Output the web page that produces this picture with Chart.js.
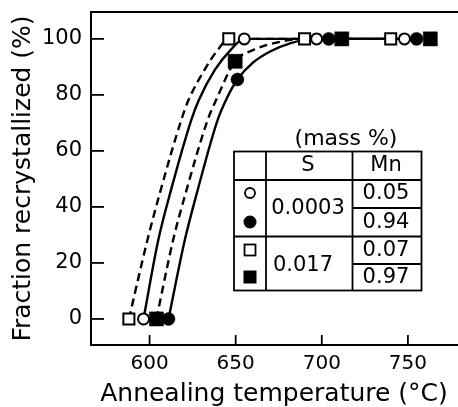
<!DOCTYPE html>
<html><head><meta charset="utf-8">
<script src="https://cdn.jsdelivr.net/npm/chart.js@4.4.0/dist/chart.umd.min.js"></script>
<style>html,body{margin:0;padding:0;background:#fff;}canvas{display:block;}</style>
</head><body>
<canvas id="c" width="458" height="407"></canvas>
<script>
// ---- axis ticks ----
const xTicks = [600, 650, 700, 750];
const yTicks = [0, 20, 40, 60, 80, 100];

// ---- measured points (temperature °C, fraction recrystallized %) ----
const openSqT = [588, 646, 690, 740];          // S 0.017, Mn 0.07
const openSqF = [0, 100, 100, 100];
const openCircT = [596.5, 655, 697, 748];      // S 0.0003, Mn 0.05
const openCircF = [0, 100, 100, 100];
const solidSqT = [604, 649.7, 711.6, 763];     // S 0.017, Mn 0.97
const solidSqF = [0, 92, 100, 100];
const solidCircT = [611, 651, 704, 755];       // S 0.0003, Mn 0.94
const solidCircF = [0, 85.5, 100, 100];

// ---- fitted curves ----
const curveOpenSqT = [588, 598.7, 606, 618.4, 622.5, 632, 639.5, 646, 690, 740];
const curveOpenSqF = [0, 28, 45, 71, 78, 89, 96, 100, 100, 100];
const curveOpenCircT = [596.5, 605, 612, 624.2, 628.5, 638, 647, 655, 697, 748];
const curveOpenCircF = [0, 28, 45, 71, 78, 89, 96, 100, 100, 100];
const curveSolidSqT = [604, 613.6, 621, 633.7, 638.5, 649.7, 660, 673, 690, 711.6, 763];
const curveSolidSqF = [0, 28, 45, 71, 78, 92, 96, 98.6, 100, 100, 100];
const curveSolidCircT = [611, 620.4, 627.5, 639.5, 645, 651, 660, 670, 682, 695, 704, 755];
const curveSolidCircF = [0, 28, 45, 71, 79, 85.5, 91.5, 95.5, 98.5, 100, 100, 100];

// ---- legend table text ----
const legendTitle = '(mass %)';
const legendHeaders = ['S', 'Mn'];
const legendS = ['0.0003', '0.017'];
const legendMn = ['0.05', '0.94', '0.07', '0.97'];

const FONT = 'DejaVu Sans';
const pts = (T, F) => T.map((t, i) => ({x: t, y: F[i]}));

function markerDs(label, T, F, style, filled, r) {
  return {label, data: pts(T, F), showLine: false, pointStyle: style,
    pointRadius: r, pointHoverRadius: r,
    pointBackgroundColor: filled ? '#000' : '#fff',
    pointBorderColor: '#000', pointBorderWidth: filled ? 0.5 : 2, order: 0};
}
function curveDs(label, T, F, dashed) {
  return {label, data: pts(T, F), showLine: true, borderColor: '#000',
    borderWidth: 2.4, borderDash: dashed ? [8, 5] : [], pointRadius: 0,
    pointHoverRadius: 0, cubicInterpolationMode: 'monotone', fill: false, order: 1};
}

const frameAndTicks = {
  id: 'frameAndTicks',
  afterDraw(chart) {
    const {ctx, chartArea: a, scales: {x, y}} = chart;
    ctx.save();
    ctx.strokeStyle = '#000';
    ctx.lineWidth = 1.8;
    x.ticks.forEach(t => {
      const px = x.getPixelForValue(t.value);
      ctx.beginPath(); ctx.moveTo(px, a.bottom); ctx.lineTo(px, a.bottom - 10); ctx.stroke();
    });
    y.ticks.forEach(t => {
      const py = y.getPixelForValue(t.value);
      ctx.beginPath(); ctx.moveTo(a.left, py); ctx.lineTo(a.left + 13, py); ctx.stroke();
    });
    ctx.lineWidth = 2;
    ctx.beginPath(); ctx.moveTo(a.left - 1, a.top); ctx.lineTo(chart.width, a.top); ctx.stroke();
    ctx.beginPath(); ctx.moveTo(a.right, a.bottom); ctx.lineTo(chart.width, a.bottom); ctx.stroke();
    ctx.restore();
  }
};

const legendTable = {
  id: 'legendTable',
  afterDraw(chart) {
    const ctx = chart.ctx;
    const c = [234, 266, 352.5, 421.5];
    const r = [151.5, 180, 208, 236.5, 264, 290.5];
    ctx.save();
    ctx.strokeStyle = '#000';
    ctx.lineWidth = 1.8;
    ctx.fillStyle = '#fff';
    ctx.fillRect(c[0], r[0], c[3] - c[0], r[5] - r[0]);
    ctx.strokeRect(c[0], r[0], c[3] - c[0], r[5] - r[0]);
    const line = (x1, y1, x2, y2) => { ctx.beginPath(); ctx.moveTo(x1, y1); ctx.lineTo(x2, y2); ctx.stroke(); };
    line(c[1], r[0], c[1], r[5]);
    line(c[2], r[0], c[2], r[5]);
    line(c[0], r[1], c[3], r[1]);
    line(c[0], r[3], c[3], r[3]);
    line(c[2], r[2], c[3], r[2]);
    line(c[2], r[4], c[3], r[4]);

    ctx.fillStyle = '#000';
    ctx.textAlign = 'center';
    ctx.textBaseline = 'middle';
    ctx.font = '22px ' + FONT;
    ctx.fillText(legendTitle, 346, 139);
    ctx.font = '21px ' + FONT;
    ctx.fillText(legendHeaders[0], 308, 166);
    ctx.fillText(legendHeaders[1], 386, 166);
    ctx.fillText(legendS[0], 308, 209);
    ctx.fillText(legendS[1], 303, 266);
    const mnY = [194, 223, 251, 278];
    legendMn.forEach((t, i) => ctx.fillText(t, 386, mnY[i]));

    // symbols
    const cx = 250;
    ctx.lineWidth = 1.8;
    ctx.beginPath(); ctx.arc(cx, 193, 5, 0, Math.PI * 2); ctx.fillStyle = '#fff'; ctx.fill(); ctx.stroke();
    ctx.beginPath(); ctx.arc(cx, 222, 6.5, 0, Math.PI * 2); ctx.fillStyle = '#000'; ctx.fill();
    ctx.strokeRect(cx - 5.5, 244.5, 11, 11);
    ctx.fillRect(cx - 6.5, 270.5, 13, 13);
    ctx.restore();
  }
};

function build() {
  new Chart(document.getElementById('c'), {
    type: 'scatter',
    data: {
      datasets: [
        markerDs('S 0.017 / Mn 0.07', openSqT, openSqF, 'rect', false, 7.8),
        markerDs('S 0.0003 / Mn 0.05', openCircT, openCircF, 'circle', false, 5.5),
        markerDs('S 0.017 / Mn 0.97', solidSqT, solidSqF, 'rect', true, 10),
        markerDs('S 0.0003 / Mn 0.94', solidCircT, solidCircF, 'circle', true, 6.5),
        curveDs('fit 0.017/0.07', curveOpenSqT, curveOpenSqF, true),
        curveDs('fit 0.0003/0.05', curveOpenCircT, curveOpenCircF, false),
        curveDs('fit 0.017/0.97', curveSolidSqT, curveSolidSqF, true),
        curveDs('fit 0.0003/0.94', curveSolidCircT, curveSolidCircF, false)
      ]
    },
    options: {
      responsive: false, animation: false, devicePixelRatio: 1,
      layout: {autoPadding: false, padding: {top: 12, right: 1, left: 0, bottom: 0}},
      plugins: {legend: {display: false}, tooltip: {enabled: false}},
      scales: {
        x: {
          type: 'linear', min: 566, max: 778.5,
          grid: {display: false, drawTicks: false},
          border: {display: true, color: '#000', width: 2},
          afterBuildTicks: s => { s.ticks = xTicks.map(v => ({value: v})); },
          afterFit: s => { s.height = 62; s.paddingLeft = 0; s.paddingRight = 0; },
          ticks: {color: '#000', font: {family: FONT, size: 20}, padding: 7, maxRotation: 0, autoSkip: false},
          title: {display: true, text: 'Annealing temperature (°C)', color: '#000',
            font: {family: FONT, size: 25, lineHeight: 1}, padding: {top: 0, bottom: 0}}
        },
        y: {
          type: 'linear', min: -9.3, max: 109.6,
          grid: {display: false, drawTicks: false},
          border: {display: true, color: '#000', width: 2},
          afterBuildTicks: s => { s.ticks = yTicks.map(v => ({value: v})); },
          afterFit: s => { s.width = 91; s.paddingTop = 0; s.paddingBottom = 0; },
          ticks: {color: '#000', font: {family: FONT, size: 21}, padding: 9, autoSkip: false},
          title: {display: true, text: 'Fraction recrystallized (%)', color: '#000',
            font: {family: FONT, size: 25, lineHeight: 1}, padding: {top: 11, bottom: 0}}
        }
      }
    },
    plugins: [frameAndTicks, legendTable]
  });
}
build();
</script>
</body></html>
